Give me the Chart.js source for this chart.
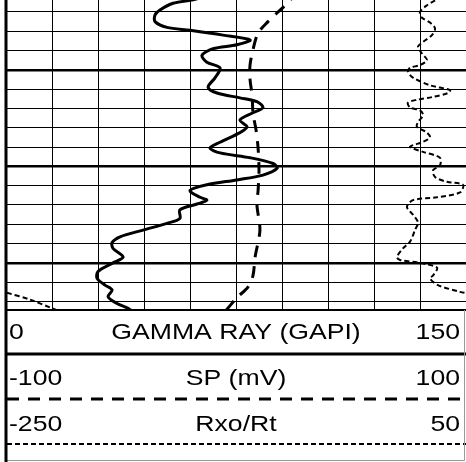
<!DOCTYPE html>
<html>
<head>
<meta charset="utf-8">
<title>Well log</title>
<script src="https://cdn.jsdelivr.net/npm/chart.js@4.4.1/dist/chart.umd.min.js"></script>
<style>
    html, body { margin: 0; padding: 0; background: #fff; }
    #wrap { width: 466px; height: 462px; }
</style>
</head>
<body>
<div id="wrap"><canvas id="logChart" width="466" height="462"></canvas></div>
<script>
// depth (ft): a grid line every 2 ft, heavy line every 10 ft
const depthTop = 2.76;
const depthBottom = 34.88;
const depthTicks = [4, 6, 8, 10, 12, 14, 16, 18, 20, 22, 24, 26, 28, 30, 32, 34];

// track scales
const grRange = [0, 150];
const spRange = [-100, 100];
const rxRange = [-250, 50];

// Gamma ray (GAPI)
const grDepth = [2.5, 2.8, 3.1, 3.8, 4.3, 5.0, 5.6, 5.9, 6.4, 6.9,
    7.4, 7.8, 8.5, 9.2, 9.8, 10.8, 11.8, 12.4, 12.9, 13.3,
    13.9, 14.5, 15.2, 15.9, 16.5, 17.5, 18.1, 18.6, 19.1, 19.7,
    20.2, 20.9, 21.4, 21.9, 22.5, 23.2, 23.5, 23.9, 24.5, 25.4,
    25.9, 26.6, 27.3, 27.9, 28.5, 29.4, 30.0, 30.9, 31.6, 32.3,
    32.8, 33.5, 34.2, 34.7, 35.0];
const grValue = [64, 60.0, 54.5, 50.2, 48.6, 48.6, 52.5, 60.0, 70.8, 79.6,
    75.3, 67.5, 63.9, 65.5, 69.8, 68.2, 65.9, 68.8, 76.3, 81.8,
    83.8, 80.2, 76.3, 78.6, 76.3, 69.8, 66.5, 69.8, 79.6, 87.1,
    88.4, 83.8, 75.3, 65.5, 60.0, 63.3, 65.5, 62.3, 56.7, 56.7,
    52.5, 44.7, 37.2, 34.6, 34.9, 38.2, 34.9, 30.0, 29.7, 32.3,
    34.6, 33.3, 36.2, 39.8, 41.1];

// SP (mV)
const spDepth = [1.7, 2.8, 4.0, 5.0, 6.2, 7.9, 9.5, 11.0, 12.6, 14.5, 16.2,
    18.1, 20.4, 22.5, 24.0, 26.6, 29.4, 31.3, 32.5, 33.6, 34.9, 35.5];
const spValue = [26.5, 23.5, 18.3, 13.9, 9.6, 7.4, 6.1, 6.1, 7.0, 7.4, 8.7,
    9.6, 10.0, 9.6, 9.1, 10.4, 8.3, 7.4, 5.2, 0.4, -4.3, -7];

// Rxo/Rt
const rxDepth = [2.3, 2.8, 3.3, 4.0, 4.6, 5.1, 5.7, 6.4, 7.1, 7.6,
    8.3, 9.0, 9.5, 9.8, 10.2, 10.8, 11.6, 12.1, 12.4, 12.8,
    13.1, 13.4, 13.9, 14.2, 14.7, 15.4, 15.9, 16.5, 17.0, 17.5,
    17.8, 18.0, 18.5, 19.1, 19.9, 20.4, 21.1, 21.6, 21.9, 22.7,
    23.2, 23.5, 24.2, 25.0, 25.8, 26.6, 27.8, 28.5, 29.4, 29.7,
    30.0, 30.5, 31.3, 31.6, 32.3, 33.0, 33.2];
const rxValue = [34, 29.8, 24.6, 20.0, 21.3, 26.5, 29.8, 27.8, 22.0, 18.7,
    21.3, 24.6, 20.0, 13.5, 12.2, 15.4, 26.5, 39.6, 38.3, 28.5,
    18.0, 12.2, 13.5, 20.0, 22.0, 18.7, 18.0, 24.6, 26.5, 21.3,
    15.4, 13.5, 22.0, 33.0, 33.0, 28.5, 29.8, 37.6, 48.0, 46.1,
    31.1, 15.4, 11.5, 15.4, 18.7, 16.7, 13.5, 8.9, 5.0, 7.0,
    20.0, 31.1, 28.5, 26.5, 31.7, 46.1, 52.6];
// past 50 the curve wraps round to the left edge of the track
const rxWrapDepth = [33.1, 33.8, 34.7, 35.1];
const rxWrapValue = [50.7, 65.7, 80.0, 86.5];

const curveTitles = ['GAMMA RAY (GAPI)', 'SP (mV)', 'Rxo/Rt'];

function toPoints(depth, value, shift) {
    return depth.map((d, i) => ({x: value[i] - (shift || 0), y: d}));
}

const grStyle = {borderColor: '#000', borderWidth: 3, borderDash: []};
const spStyle = {borderColor: '#000', borderWidth: 3, borderDash: [12, 9]};
const rxStyle = {borderColor: '#000', borderWidth: 2, borderDash: [5, 3]};

function curve(label, data, xAxisID, style) {
    return Object.assign({
        label: label,
        data: data,
        xAxisID: xAxisID,
        yAxisID: 'depth',
        showLine: true,
        pointRadius: 0,
        tension: 0.3,
        clip: 0
    }, style);
}

// legend panel under the track
const logLegend = {
    id: 'logLegend',
    afterDraw(chart) {
        const ctx = chart.ctx;
        const area = chart.chartArea;
        const left = area.left;
        const right = area.right;
        const top = area.bottom;
        const mid = (left + right) / 2;

        const rows = [
            {min: grRange[0], max: grRange[1], title: curveTitles[0], style: grStyle},
            {min: spRange[0], max: spRange[1], title: curveTitles[1], style: spStyle},
            {min: rxRange[0], max: rxRange[1], title: curveTitles[2], style: rxStyle}
        ];

        ctx.save();
        ctx.fillStyle = '#fff';
        ctx.fillRect(left, top, right - left, chart.height - top);

        ctx.fillStyle = '#000';
        ctx.font = '22px "Liberation Sans", Arial, sans-serif';
        ctx.textBaseline = 'middle';

        // the log header lettering is a bit wider than plain Arial
        const text = (s, x, y, align) => {
            ctx.save();
            ctx.translate(x, y);
            ctx.scale(1.21, 1);
            ctx.textAlign = align;
            ctx.fillText(s, 0, 0);
            ctx.restore();
        };

        rows.forEach((row, i) => {
            const ty = top + 23 + i * 46;
            const ly = top + 44 + i * 45;
            text(String(row.min), left + 3, ty, 'left');
            text(row.title, mid, ty, 'center');
            text(String(row.max), right - 6, ty, 'right');

            ctx.strokeStyle = row.style.borderColor;
            ctx.lineWidth = row.style.borderWidth;
            ctx.setLineDash(row.style.borderDash);
            ctx.beginPath();
            ctx.moveTo(left + 1, ly);
            ctx.lineTo(right, ly);
            ctx.stroke();
        });

        ctx.setLineDash([]);
        ctx.strokeStyle = '#000';
        ctx.lineWidth = 2;
        ctx.beginPath();
        ctx.moveTo(left, top);
        ctx.lineTo(right, top);
        ctx.stroke();

        ctx.strokeStyle = '#999';
        ctx.lineWidth = 1;
        ctx.beginPath();
        ctx.moveTo(right - 1.5, top);
        ctx.lineTo(right - 1.5, chart.height - 1.5);
        ctx.lineTo(left, chart.height - 1.5);
        ctx.stroke();

        ctx.strokeStyle = '#000';
        ctx.lineWidth = 3;
        ctx.beginPath();
        ctx.moveTo(left, 0);
        ctx.lineTo(left, chart.height);
        ctx.stroke();
        ctx.restore();
    }
};

const ctx = document.getElementById('logChart');

new Chart(ctx, {
    type: 'scatter',
    data: {
        datasets: [
            curve(curveTitles[0], toPoints(grDepth, grValue), 'gr', grStyle),
            curve(curveTitles[1], toPoints(spDepth, spValue), 'sp', spStyle),
            curve(curveTitles[2], toPoints(rxDepth, rxValue), 'rx', rxStyle),
            curve(curveTitles[2] + ' wrap', toPoints(rxWrapDepth, rxWrapValue, rxRange[1] - rxRange[0]), 'rx', rxStyle)
        ]
    },
    options: {
        responsive: false,
        animation: false,
        layout: {padding: {left: 6, right: 0, top: 0, bottom: 152}},
        scales: {
            depth: {
                type: 'linear',
                axis: 'y',
                position: 'left',
                reverse: true,
                min: depthTop,
                max: depthBottom,
                afterBuildTicks: (scale) => {
                    scale.ticks = depthTicks.map(v => ({value: v}));
                },
                ticks: {display: false},
                border: {display: false},
                grid: {
                    color: '#000',
                    drawTicks: false,
                    lineWidth: (c) => (c.tick && c.tick.value % 10 === 0) ? 2.5 : 1
                }
            },
            gr: {
                type: 'linear',
                axis: 'x',
                position: 'bottom',
                min: grRange[0],
                max: grRange[1],
                ticks: {display: false, stepSize: 15},
                border: {display: false},
                grid: {color: '#000', lineWidth: 1, drawTicks: false}
            },
            sp: {type: 'linear', axis: 'x', display: false, min: spRange[0], max: spRange[1]},
            rx: {type: 'linear', axis: 'x', display: false, min: rxRange[0], max: rxRange[1]}
        },
        plugins: {
            legend: {display: false},
            tooltip: {enabled: false}
        }
    },
    plugins: [logLegend]
});
</script>
</body>
</html>
